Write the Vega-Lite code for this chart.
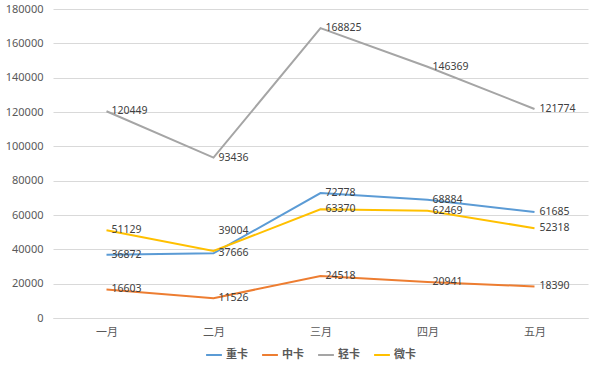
{
  "$schema": "https://vega.github.io/schema/vega-lite/v6.json",
  "width": 535,
  "height": 309,
  "autosize": {"type": "none"},
  "padding": {"left": 53, "top": 9, "right": 12, "bottom": 52},
  "background": "white",
  "data": {
    "values": [
      {"month": "一月", "type": "重卡", "value": 36872},
      {"month": "二月", "type": "重卡", "value": 37666},
      {"month": "三月", "type": "重卡", "value": 72778},
      {"month": "四月", "type": "重卡", "value": 68884},
      {"month": "五月", "type": "重卡", "value": 61685},
      {"month": "一月", "type": "中卡", "value": 16603},
      {"month": "二月", "type": "中卡", "value": 11526},
      {"month": "三月", "type": "中卡", "value": 24518},
      {"month": "四月", "type": "中卡", "value": 20941},
      {"month": "五月", "type": "中卡", "value": 18390},
      {"month": "一月", "type": "轻卡", "value": 120449},
      {"month": "二月", "type": "轻卡", "value": 93436},
      {"month": "三月", "type": "轻卡", "value": 168825},
      {"month": "四月", "type": "轻卡", "value": 146369},
      {"month": "五月", "type": "轻卡", "value": 121774},
      {"month": "一月", "type": "微卡", "value": 51129},
      {"month": "二月", "type": "微卡", "value": 39004},
      {"month": "三月", "type": "微卡", "value": 63370},
      {"month": "四月", "type": "微卡", "value": 62469},
      {"month": "五月", "type": "微卡", "value": 52318}
    ]
  },
  "config": {
    "view": {"stroke": null},
    "font": "Noto Sans CJK SC"
  },
  "encoding": {
    "x": {
      "field": "month", "type": "ordinal", "sort": ["一月", "二月", "三月", "四月", "五月"],
      "scale": {"type": "point", "padding": 0.5},
      "axis": {"title": null, "labelAngle": 0, "ticks": false, "domainColor": "#D9D9D9", "labelColor": "#595959", "labelFontSize": 11, "labelPadding": 8, "labelFont": "Noto Sans CJK SC"}
    },
    "y": {
      "field": "value", "type": "quantitative",
      "scale": {"domain": [0, 180000], "nice": false},
      "axis": {"title": null, "values": [0,20000,40000,60000,80000,100000,120000,140000,160000,180000], "labelOverlap": false, "domain": false, "ticks": false, "gridColor": "#D9D9D9", "labelColor": "#595959", "labelFontSize": 11, "labelPadding": 10, "labelFont": "Noto Sans", "format": "d"}
    },
    "color": {
      "field": "type", "type": "nominal",
      "scale": {"domain": ["重卡", "中卡", "轻卡", "微卡"], "range": ["#5B9BD5", "#ED7D31", "#A5A5A5", "#FFC000"]},
      "legend": {"title": null, "orient": "none", "legendX": 152, "legendY": 337, "direction": "horizontal", "symbolType": "stroke", "symbolStrokeWidth": 2, "symbolSize": 250, "labelFontSize": 11, "labelColor": "#595959", "labelFontWeight": "bold", "columnPadding": 10, "labelOffset": 3}
    }
  },
  "layer": [
    {"mark": {"type": "line", "strokeWidth": 2}},
    {
      "transform": [{"filter": "!(datum.month == '二月' && datum.type == '微卡')"}],
      "mark": {"type": "text", "align": "left", "baseline": "middle", "dx": 5, "fontSize": 10.5, "color": "#404040", "font": "Noto Sans"},
      "encoding": {"text": {"field": "value", "type": "quantitative", "format": "d"}, "color": {"value": "#404040"}}
    },
    {
      "transform": [{"filter": "datum.month == '二月' && datum.type == '微卡'"}],
      "mark": {"type": "text", "align": "left", "baseline": "middle", "dx": 5, "dy": -20, "fontSize": 10.5, "color": "#404040", "font": "Noto Sans"},
      "encoding": {"text": {"field": "value", "type": "quantitative", "format": "d"}, "color": {"value": "#404040"}}
    }
  ]
}
